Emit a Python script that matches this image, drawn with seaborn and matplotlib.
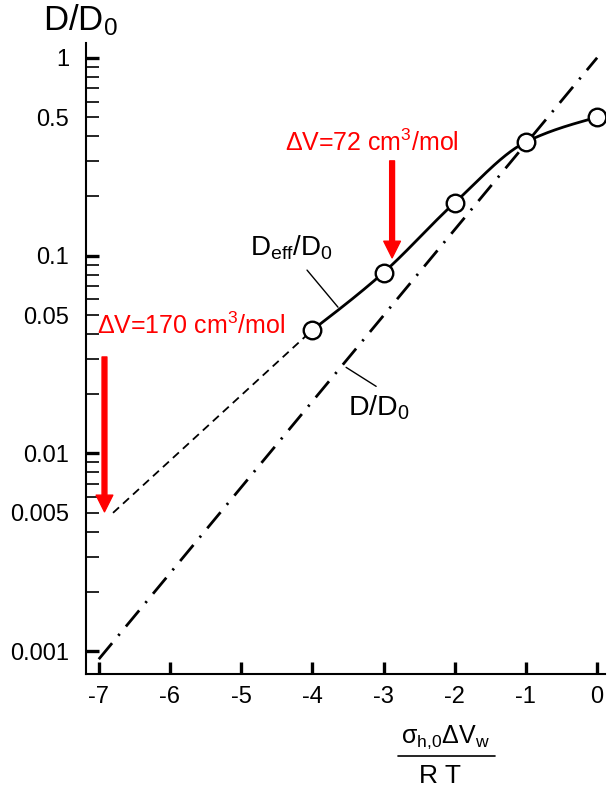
import numpy as np
import pandas as pd
import matplotlib
matplotlib.use("Agg")
import matplotlib.pyplot as plt
from matplotlib.ticker import FixedLocator, FuncFormatter
from matplotlib.lines import Line2D
import seaborn as sns

# ---- data -------------------------------------------------------------
stress_x = [-4, -3, -2, -1, 0]                    # sigma_h0*dV_w / RT
deff_ratio = [0.042, 0.082, 0.185, 0.375, 0.50]   # D_eff / D_0 (circles)

extrap_x = [-6.8, -4]                             # dashed extrapolation of D_eff/D_0
extrap_y = [0.005, 0.042]

bulk_x = [-7, 0]                                  # D/D_0 reference line
bulk_y = [0.00091, 1.0]

ytick_labels = {1: "1", 0.5: "0.5", 0.1: "0.1", 0.05: "0.05",
                0.01: "0.01", 0.005: "0.005", 0.001: "0.001"}
xticks = [-7, -6, -5, -4, -3, -2, -1, 0]

# ---- style ------------------------------------------------------------
sns.set_style("ticks")
plt.rcParams["font.family"] = ["Liberation Sans", "DejaVu Sans"]
plt.rcParams["mathtext.fontset"] = "custom"
plt.rcParams["mathtext.rm"] = "Liberation Sans"
plt.rcParams["mathtext.it"] = "Liberation Sans:italic"
plt.rcParams["mathtext.default"] = "regular"
for key in ("text.color", "axes.labelcolor", "xtick.color", "ytick.color",
            "axes.edgecolor"):
    plt.rcParams[key] = "black"

fig = plt.figure(figsize=(6.08, 7.92), dpi=100)
ax = fig.add_axes([0.1414, 0.149, 0.8536, 0.7967])


def smooth_log(x, y, n=300):
    """Monotone (PCHIP) cubic through the points in log10 space."""
    x = np.asarray(x, float)
    ly = np.log10(np.asarray(y, float))
    h = np.diff(x)
    sec = np.diff(ly) / h
    m = np.zeros_like(ly)
    for i in range(1, len(x) - 1):
        if sec[i - 1] * sec[i] > 0:
            m[i] = 2 * sec[i - 1] * sec[i] / (sec[i - 1] + sec[i])
    m[0] = 1.5 * sec[0] - 0.5 * m[1]
    m[-1] = 1.5 * sec[-1] - 0.5 * m[-2]
    xs = np.linspace(x[0], x[-1], n)
    idx = np.clip(np.searchsorted(x, xs, side="right") - 1, 0, len(x) - 2)
    t = (xs - x[idx]) / h[idx]
    h00 = 2 * t**3 - 3 * t**2 + 1
    h10 = t**3 - 2 * t**2 + t
    h01 = -2 * t**3 + 3 * t**2
    h11 = t**3 - t**2
    ys = (h00 * ly[idx] + h10 * h[idx] * m[idx]
          + h01 * ly[idx + 1] + h11 * h[idx] * m[idx + 1])
    return xs, 10 ** ys


# D/D0 reference (dash-dot)
sns.lineplot(x=bulk_x, y=bulk_y, ax=ax, color="black", lw=2.0,
             estimator=None, sort=False,
             linestyle=(0, (7.5, 3.5, 0.8, 3.5)))
# dashed extrapolation
sns.lineplot(x=extrap_x, y=extrap_y, ax=ax, color="black", lw=1.3,
             estimator=None, sort=False, linestyle=(0, (4.5, 3)))
# smooth D_eff/D0 curve
cx, cy = smooth_log(stress_x, deff_ratio)
sns.lineplot(x=cx, y=cy, ax=ax, color="black", lw=2.0, estimator=None, sort=False)
# circles
sns.scatterplot(x=stress_x, y=deff_ratio, ax=ax, s=160, marker="o",
                facecolor="white", edgecolor="black", linewidth=1.7, zorder=5)

ax.set_yscale("log")
ax.set_xlim(-7.18, 0.11)
ax.set_ylim(7.66e-4, 1.187)

# axes styling
for side in ("top", "right"):
    ax.spines[side].set_visible(False)
for side in ("left", "bottom"):
    ax.spines[side].set_linewidth(1.5)

decades = [0.001, 0.01, 0.1, 1]
minors = [m * d for d in [0.001, 0.01, 0.1] for m in range(2, 10)]
ax.yaxis.set_major_locator(FixedLocator(decades))
ax.yaxis.set_minor_locator(FixedLocator(minors))
ax.yaxis.set_major_formatter(FuncFormatter(lambda v, p: ytick_labels.get(round(v, 6), "")))
ax.yaxis.set_minor_formatter(FuncFormatter(lambda v, p: ytick_labels.get(round(v, 6), "")))
ax.tick_params(axis="y", which="major", direction="in", length=9, width=2.4,
               labelsize=17, pad=12)
ax.tick_params(axis="y", which="minor", direction="in", length=9, width=1.2,
               labelsize=17, pad=12)
ax.set_xticks(xticks)
ax.set_xticklabels([str(t) for t in xticks])
ax.tick_params(axis="x", which="major", direction="in", length=9, width=2.4,
               labelsize=17, pad=9)
ax.set_xlabel("")
ax.set_ylabel("")

# axis titles
fig.text(80 / 608, 1 - 20 / 792, "D/D$_0$", fontsize=25, ha="center", va="center")
fig.text(446 / 608, 1 - 737 / 792, "σ$_{h{,}0}$ΔV$_w$", fontsize=18,
         ha="center", va="center")
fig.add_artist(Line2D([398 / 608, 495 / 608], [1 - 756 / 792, 1 - 756 / 792],
                      color="black", lw=1.2, transform=fig.transFigure))
fig.text(440 / 608, 1 - 776 / 792, "R T", fontsize=19, ha="center", va="center")

# curve labels with leader lines
ax.text(-4.30, 0.109, "D$_{eff}$/D$_0$", fontsize=20, ha="center", va="center")
ax.plot([-4.075, -3.64], [0.0844, 0.0548], color="black", lw=1.0)
ax.text(-3.06, 0.0169, "D/D$_0$", fontsize=20.5, ha="center", va="center")
ax.plot([-3.526, -3.104], [0.0272, 0.0218], color="black", lw=1.0)

# red markers of activation volume
red = "#ff0000"
ax.text(-3.17, 0.37, "ΔV=72 cm$^3$/mol", color=red, fontsize=18,
        ha="center", va="center")
ax.annotate("", xy=(-2.88, 0.0973), xytext=(-2.88, 0.301),
            arrowprops=dict(color=red, width=3.5, headwidth=12, headlength=12, shrink=0))
ax.text(-5.70, 0.0439, "ΔV=170 cm$^3$/mol", color=red, fontsize=18,
        ha="center", va="center")
ax.annotate("", xy=(-6.92, 0.00506), xytext=(-6.92, 0.0307),
            arrowprops=dict(color=red, width=3.5, headwidth=12, headlength=12, shrink=0))

fig.savefig("out.png", dpi=100)
